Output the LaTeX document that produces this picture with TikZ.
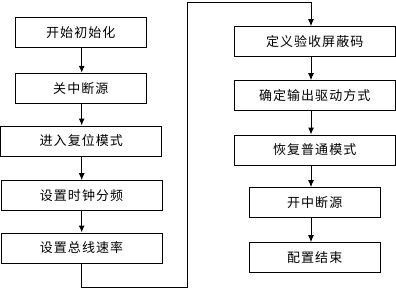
\documentclass[tikz,border=0pt]{standalone}
\usepackage{fontspec}
\newfontfamily\cjk[LetterSpace=8]{Noto Sans CJK SC}
\usetikzlibrary{arrows.meta}
\begin{document}
\begin{tikzpicture}[x=1pt,y=-1pt,
  box/.style={draw=black,line width=1pt,minimum height=30pt,inner sep=0pt,
    font=\cjk\fontsize{13}{15}\selectfont},
  wide/.style={box,minimum width=161pt},
  narrow/.style={box,minimum width=131pt},
  arr/.style={line width=1pt,-{Latex[length=7pt,width=6pt]}}]
\useasboundingbox (0,0) rectangle (396,289);
\node[narrow] (b1) at (80.8,32.3) {开始初始化};
\node[narrow] (b2) at (80.8,88.3) {关中断源};
\node[wide]   (b3) at (81.3,141) {进入复位模式};
\node[wide]   (b4) at (81.5,195.7) {设置时钟分频};
\node[wide]   (b5) at (81.5,248) {设置总线速率};
\node[wide]   (b6) at (314.7,41.7) {定义验收屏蔽码};
\node[wide]   (b7) at (314.7,95.7) {确定输出驱动方式};
\node[wide]   (b8) at (314.7,150) {恢复普通模式};
\node[narrow] (b9) at (314.7,202.7) {开中断源};
\node[narrow] (b10) at (314.7,257.7) {配置结束};
\coordinate (c1) at (81.7,287.5);
\coordinate (c2) at (187.8,287.5);
\coordinate (c3) at (187.8,2.5);
\coordinate (c4) at (311,2.5);
\draw[arr] (b1.south -| c1) -- (b2.north -| c1);
\draw[arr] (b2.south -| c1) -- (b3.north -| c1);
\draw[arr] (b3.south -| c1) -- (b4.north -| c1);
\draw[arr] (b4.south -| c1) -- (b5.north -| c1);
\draw[arr] (b5.south -| c1) -- (c1) -- (c2) -- (c3) -- (c4) -- (b6.north -| c4);
\draw[arr] (b6.south -| c4) -- (b7.north -| c4);
\draw[arr] (b7.south -| c4) -- (b8.north -| c4);
\draw[arr] (b8.south -| c4) -- (b9.north -| c4);
\draw[arr] (b9.south -| c4) -- (b10.north -| c4);
\end{tikzpicture}
\end{document}
